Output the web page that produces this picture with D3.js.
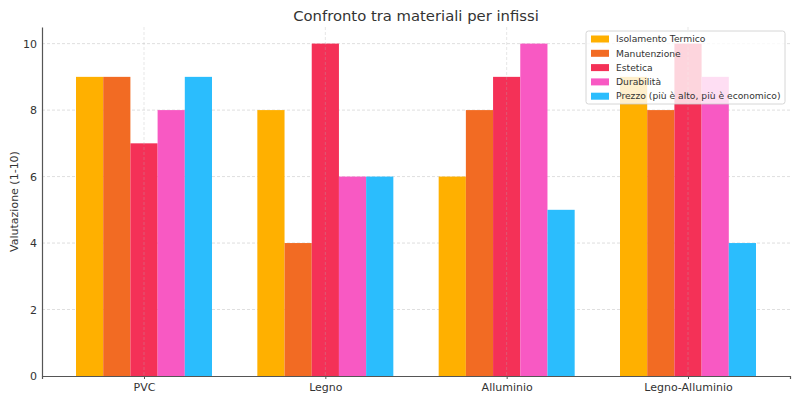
<!DOCTYPE html>
<html>
<head>
<meta charset="utf-8">
<script src="https://cdn.jsdelivr.net/npm/d3@7"></script>
<style>
  body { margin: 0; background: #fff; }
  svg { font-family: "DejaVu Sans", sans-serif; }
</style>
</head>
<body>
<div id="chart"></div>
<script>
const materials = ["PVC", "Legno", "Alluminio", "Legno-Alluminio"];
const criteria = ["Isolamento Termico", "Manutenzione", "Estetica", "Durabilità", "Prezzo (più è alto, più è economico)"];
const isolamento = [9, 8, 6, 9];
const manutenzione = [9, 4, 8, 8];
const estetica = [7, 10, 9, 10];
const durabilita = [8, 6, 10, 9];
const prezzo = [9, 6, 5, 4];
const yTicks = [0, 2, 4, 6, 8, 10];

const series = [isolamento, manutenzione, estetica, durabilita, prezzo];
const colors = ["#ffb000", "#f26b23", "#f43157", "#f859c3", "#2bbdfd"];

const width = 800, height = 400;
const margin = { top: 27, right: 10, bottom: 24, left: 42 };
const iw = width - margin.left - margin.right;
const ih = height - margin.top - margin.bottom;
const barW = 0.15;

const svg = d3.select("#chart").append("svg")
    .attr("width", width)
    .attr("height", height);

const g = svg.append("g").attr("transform", `translate(${margin.left},${margin.top})`);

// linear x in category units, like matplotlib
const x = d3.scaleLinear().domain([-0.5625, materials.length - 1 + 0.5625]).range([0, iw]);
const y = d3.scaleLinear().domain([0, 10.5]).range([ih, 0]);

// horizontal grid behind bars
g.selectAll(".hgrid")
    .data(yTicks.slice(1))
    .join("line")
    .attr("x1", 0).attr("x2", iw)
    .attr("y1", d => y(d)).attr("y2", d => y(d))
    .attr("stroke", "#b0b0b0")
    .attr("stroke-opacity", 0.5)
    .attr("stroke-dasharray", "3,2")
    .attr("stroke-width", 0.8);

// bars
series.forEach((vals, s) => {
    const off = (s - 2) * barW;
    g.selectAll(null)
        .data(vals)
        .join("rect")
        .attr("x", (d, i) => x(i + off - barW / 2))
        .attr("width", x(barW) - x(0))
        .attr("y", d => y(d))
        .attr("height", d => y(0) - y(d))
        .attr("fill", colors[s]);
});

// vertical grid shows over the middle bars
g.selectAll(".vgrid")
    .data(materials)
    .join("line")
    .attr("x1", (d, i) => x(i)).attr("x2", (d, i) => x(i))
    .attr("y1", 0).attr("y2", ih)
    .attr("stroke", "#b0b0b0")
    .attr("stroke-opacity", 0.4)
    .attr("stroke-dasharray", "3,2")
    .attr("stroke-width", 0.8);

// axes
const yAxis = g.append("g").call(d3.axisLeft(y).tickValues(yTicks).tickSize(0).tickPadding(5));
const xAxis = g.append("g").attr("transform", `translate(0,${ih})`)
    .call(d3.axisBottom(x).tickValues(d3.range(materials.length)).tickFormat(i => materials[i]).tickSize(3).tickPadding(4));
[yAxis, xAxis].forEach(a => {
    a.select(".domain").attr("stroke", "#555").attr("stroke-width", 1.2);
    a.selectAll(".tick line").attr("stroke", "#555");
    a.selectAll("text").attr("fill", "#333").attr("font-size", 11).attr("font-family", "DejaVu Sans");
});

// title and label
svg.append("text")
    .attr("x", margin.left + iw / 2)
    .attr("y", 21)
    .attr("text-anchor", "middle")
    .attr("font-size", 14.8)
    .attr("fill", "#333")
    .text("Confronto tra materiali per infissi");
svg.append("text")
    .attr("transform", `translate(18,${margin.top + ih / 2}) rotate(-90)`)
    .attr("text-anchor", "middle")
    .attr("font-size", 11)
    .attr("fill", "#333")
    .text("Valutazione (1-10)");

// legend
const lg = svg.append("g").attr("transform", "translate(586,31)");
lg.append("rect")
    .attr("width", 199).attr("height", 73)
    .attr("rx", 2.5)
    .attr("fill", "#fff").attr("fill-opacity", 0.8)
    .attr("stroke", "#ccc").attr("stroke-width", 0.8);
criteria.forEach((c, i) => {
    const row = lg.append("g").attr("transform", `translate(5,${8 + i * 14.3})`);
    row.append("rect").attr("x", 0).attr("y", -3.5).attr("width", 18).attr("height", 7).attr("fill", colors[i]);
    row.append("text").attr("x", 25).attr("y", 0).attr("dy", "0.35em")
        .attr("font-size", 9.2).attr("fill", "#333").text(c);
});
</script>
</body>
</html>
